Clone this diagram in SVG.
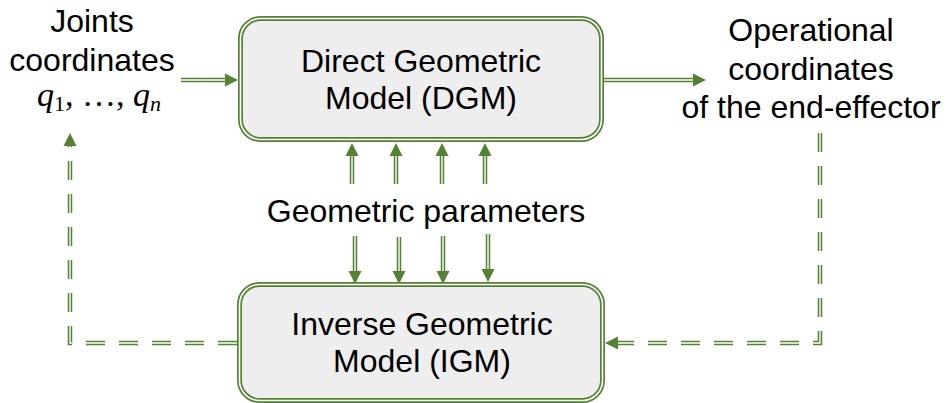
<svg xmlns="http://www.w3.org/2000/svg" width="946" height="403" viewBox="0 0 946 403">
<style>
.t{font-family:"Liberation Sans",Arial,sans-serif;font-size:32px;fill:#000;text-anchor:middle}
.m{font-family:"Liberation Serif","Times New Roman",serif;font-size:34px;fill:#000}
.box{fill:#eeeeee;stroke:#548235;stroke-width:5}
.boxin{fill:none;stroke:#fff;stroke-width:1.6}
.lo{fill:none;stroke:#548235;stroke-width:4.5}
.li{fill:none;stroke:#fff;stroke-width:1.4}
.d{stroke-dasharray:19 14}
.ah{fill:#548235}
</style>
<rect width="946" height="403" fill="#fff"/>
<g id="connectors">
  <path class="lo" d="M181 80H226"/><path class="li" d="M181 80H226"/>
  <polygon class="ah" points="238,80 225,73.5 225,86.5"/>
  <path class="lo" d="M604 80H693"/><path class="li" d="M604 80H693"/>
  <polygon class="ah" points="706,80 693,73.5 693,86.5"/>
  <g>
    <path class="lo" d="M352 184V155"/><path class="li" d="M352 184V155"/>
    <polygon class="ah" points="352,143 345.5,156 358.5,156"/>
    <path class="lo" d="M396 184V155"/><path class="li" d="M396 184V155"/>
    <polygon class="ah" points="396,143 389.5,156 402.5,156"/>
    <path class="lo" d="M442 184V155"/><path class="li" d="M442 184V155"/>
    <polygon class="ah" points="442,143 435.5,156 448.5,156"/>
    <path class="lo" d="M485 184V155"/><path class="li" d="M485 184V155"/>
    <polygon class="ah" points="485,143 478.5,156 491.5,156"/>
  </g>
  <g>
    <path class="lo" d="M355 236V271"/><path class="li" d="M355 236V271"/>
    <polygon class="ah" points="355,284 348.5,271 361.5,271"/>
    <path class="lo" d="M399 237V271"/><path class="li" d="M399 237V271"/>
    <polygon class="ah" points="399,284 392.5,271 405.5,271"/>
    <path class="lo" d="M443 236V271"/><path class="li" d="M443 236V271"/>
    <polygon class="ah" points="443,284 436.5,271 449.5,271"/>
    <path class="lo" d="M488 234V269"/><path class="li" d="M488 234V269"/>
    <polygon class="ah" points="488,282 481.5,269 494.5,269"/>
  </g>
  <path class="lo d" d="M237 343H70V145"/><path class="li d" d="M237 343H70V145"/>
  <polygon class="ah" points="70,133 63.5,146 76.5,146"/>
  <path class="lo d" d="M820 133V343H617"/><path class="li d" d="M820 133V343H617"/>
  <polygon class="ah" points="605,343 618,336.5 618,349.5"/>
</g>
<g id="dgm">
  <rect class="box" x="240.5" y="18.5" width="361" height="121" rx="20"/>
  <rect class="boxin" x="240.5" y="18.5" width="361" height="121" rx="20"/>
  <text class="t" x="421" y="72">Direct Geometric</text>
  <text class="t" x="421" y="109">Model (DGM)</text>
</g>
<g id="igm">
  <rect class="box" x="239.5" y="284.5" width="363" height="116" rx="20"/>
  <rect class="boxin" x="239.5" y="284.5" width="363" height="116" rx="20"/>
  <text class="t" x="422" y="335">Inverse Geometric</text>
  <text class="t" x="422" y="372">Model (IGM)</text>
</g>
<g id="joints">
  <text class="t" x="92" y="32">Joints</text>
  <text class="t" x="92" y="71">coordinates</text>
  <text class="m" x="37" y="106"><tspan font-style="italic">q</tspan><tspan font-size="22" dy="5">1</tspan><tspan dy="-5">, …, </tspan><tspan font-style="italic">q</tspan><tspan font-size="22" font-style="italic" dy="5">n</tspan></text>
</g>
<g id="operational">
  <text class="t" x="811" y="41">Operational</text>
  <text class="t" x="811" y="80">coordinates</text>
  <text class="t" x="811" y="118">of the end-effector</text>
</g>
<g id="params">
  <text class="t" x="426" y="222">Geometric parameters</text>
</g>
</svg>
